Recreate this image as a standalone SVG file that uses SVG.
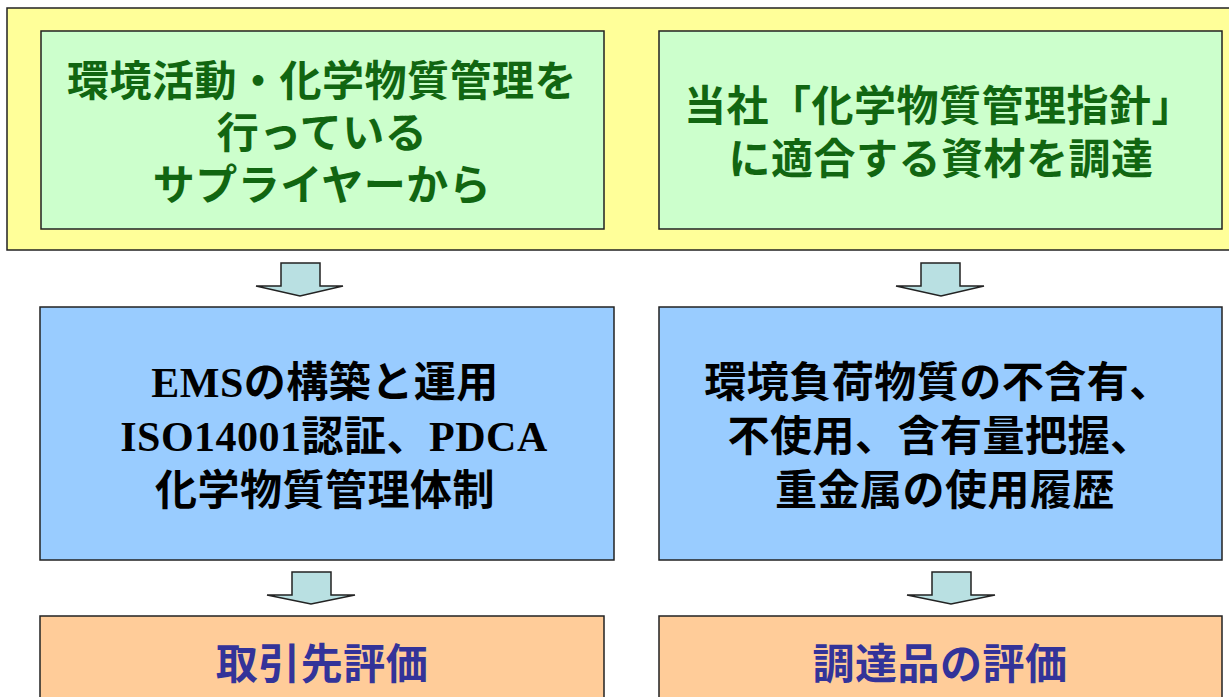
<svg xmlns="http://www.w3.org/2000/svg" width="1229" height="697" viewBox="0 0 1229 697">
<style>
.box{stroke:#222;stroke-width:1.5}
.arrow{fill:#B9E0E2;stroke:#222;stroke-width:1.5;stroke-linejoin:miter}
text{font-family:"Liberation Serif","Noto Sans CJK JP",serif;font-weight:700;font-size:42px;letter-spacing:0.5px;text-anchor:middle;dominant-baseline:central}
.g{fill:#116611}
.k{fill:#000}
.b{fill:#333399}
</style>
<rect width="1229" height="697" fill="#fff"/>
<g id="frame">
<rect class="box" x="7" y="8" width="1240" height="242" fill="#FFFF99"/>
</g>
<g id="n1">
<rect class="box" x="41" y="31" width="563" height="198" fill="#CCFFCC"/>
<text class="g" x="322" y="82">環境活動・化学物質管理を</text>
<text class="g" x="322" y="134">行っている</text>
<text class="g" x="322" y="186">サプライヤーから</text>
</g>
<g id="n2">
<rect class="box" x="659" y="31" width="563" height="198" fill="#CCFFCC"/>
<text class="g" x="939" y="107">当社「化学物質管理指針」</text>
<text class="g" x="941" y="160">に適合する資材を調達</text>
</g>
<g id="n3">
<rect class="box" x="40" y="307" width="574" height="253" fill="#99CCFF"/>
<text class="k" x="325" y="383">EMSの構築と運用</text>
<text class="k" x="334" y="437">ISO14001認証、PDCA</text>
<text class="k" x="325" y="491">化学物質管理体制</text>
</g>
<g id="n4">
<rect class="box" x="659" y="307" width="563" height="253" fill="#99CCFF"/>
<text class="k" x="938" y="383">環境負荷物質の不含有、</text>
<text class="k" x="940" y="437">不使用、含有量把握、</text>
<text class="k" x="945" y="491">重金属の使用履歴</text>
</g>
<g id="n5">
<rect class="box" x="40" y="616" width="564" height="100" fill="#FFCC99"/>
<text class="b" x="322" y="665">取引先評価</text>
</g>
<g id="n6">
<rect class="box" x="659" y="616" width="563" height="100" fill="#FFCC99"/>
<text class="b" x="940" y="665">調達品の評価</text>
</g>
<g id="connectors">
<polygon class="arrow" points="281,263 320,263 320,286 343,286 300,296 256,286 281,286"/>
<polygon class="arrow" points="921,263 960,263 960,286 984,286 941,296 896,286 921,286"/>
<polygon class="arrow" points="292,572 331,572 331,595 355,595 311,604 267,595 292,595"/>
<polygon class="arrow" points="932,572 971,572 971,595 995,595 951,604 907,595 932,595"/>
</g>
</svg>
